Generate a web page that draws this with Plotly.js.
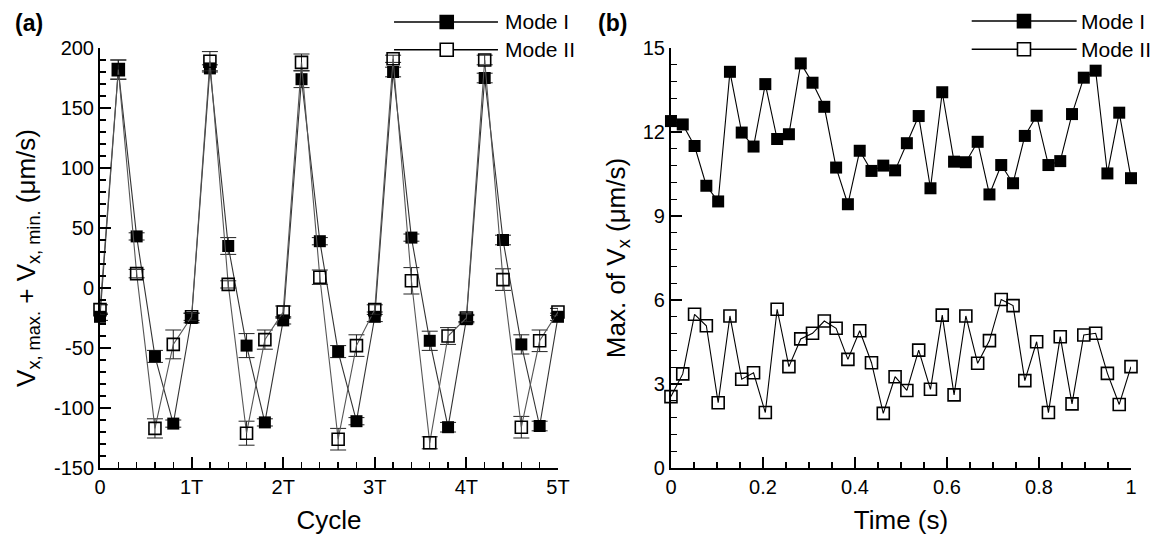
<!DOCTYPE html>
<html>
<head>
<meta charset="utf-8">
<script src="https://cdn.plot.ly/plotly-3.0.1.min.js"></script>
<style>html,body{margin:0;padding:0;background:#fff;}#chart{width:1151px;height:536px;}</style>
</head>
<body>
<div id="chart"></div>
<script>
// Panel (a): cycle positions (units of T)
var cycleX = [0, 0.2, 0.4, 0.6, 0.8, 1.0, 1.2, 1.4, 1.6, 1.8, 2.0, 2.2, 2.4, 2.6, 2.8, 3.0, 3.2, 3.4, 3.6, 3.8, 4.0, 4.2, 4.4, 4.6, 4.8, 5.0];
var modeIa  = [-24, 182, 43, -57, -113, -25, 183, 35, -48, -112, -27, 174, 39, -53, -111, -24, 180, 42, -44, -116, -26, 175, 40, -47, -115, -24];
var modeIaErr = [3, 8, 3, 5, 3, 4, 3, 7, 10, 3, 3, 7, 3, 5, 3, 4, 4, 3, 8, 4, 3, 4, 4, 8, 4, 3];
var modeIIa = [-18, 182, 12, -117, -47, -24, 189, 3, -121, -43, -20, 188, 9, -126, -48, -18, 191, 6, -129, -40, -25, 190, 7, -116, -44, -20];
var modeIIaErr = [4, 8, 3.5, 8, 12, 3, 8, 3, 10, 8, 5, 7, 6, 9, 9, 4, 3, 11, 5, 7, 3, 4, 9, 9, 9, 3];
var cycleTickVals = [0, 1, 2, 3, 4, 5];
var cycleTickText = ['0', '1T', '2T', '3T', '4T', '5T'];
var velTickVals = [-150, -100, -50, 0, 50, 100, 150, 200];
var velTickText = ['-150', '-100', '-50', '0', '50', '100', '150', '200'];

// Panel (b): time (s)
var timeX = [0, 0.0256, 0.0513, 0.0769, 0.1026, 0.1282, 0.1538, 0.1795, 0.2051, 0.2308, 0.2564, 0.2821, 0.3077, 0.3333, 0.3590, 0.3846, 0.4103, 0.4359, 0.4615, 0.4872, 0.5128, 0.5385, 0.5641, 0.5897, 0.6154, 0.6410, 0.6667, 0.6923, 0.7179, 0.7436, 0.7692, 0.7949, 0.8205, 0.8462, 0.8718, 0.8974, 0.9231, 0.9487, 0.9744, 1.0];
var modeIb = [12.39, 12.27, 11.5, 10.08, 9.52, 14.15, 11.98, 11.48, 13.71, 11.75, 11.92, 14.45, 13.76, 12.9, 10.73, 9.42, 11.33, 10.61, 10.8, 10.63, 11.6, 12.57, 9.99, 13.42, 10.94, 10.92, 11.65, 9.77, 10.82, 10.17, 11.86, 12.58, 10.82, 10.96, 12.64, 13.94, 14.19, 10.52, 12.69, 10.35];
var modeIIb = [2.55, 3.36, 5.49, 5.08, 2.33, 5.43, 3.17, 3.4, 1.98, 5.67, 3.62, 4.61, 4.81, 5.25, 4.99, 3.88, 4.9, 3.76, 1.95, 3.26, 2.77, 4.21, 2.81, 5.46, 2.61, 5.43, 3.74, 4.55, 6.02, 5.8, 3.12, 4.51, 1.98, 4.69, 2.29, 4.75, 4.81, 3.38, 2.27, 3.62];

var seriesNames = ['Mode I', 'Mode II'];

var FONT = 'Arial, "Liberation Sans", Helvetica, sans-serif';

function trace(x, y, err, xa, ya, open, lineColor) {
  var t = {
    x: x, y: y, xaxis: xa, yaxis: ya, type: 'scatter', mode: 'lines+markers',
    cliponaxis: false, showlegend: false, hoverinfo: 'x+y',
    line: {color: lineColor, width: 1.1},
    marker: open ? {symbol: 'square-open', size: 12, color: '#000', line: {width: 1.6, color: '#000'}}
                 : {symbol: 'square', size: 12, color: '#000', line: {width: 0}}
  };
  if (err) {
    t.error_y = {type: 'data', array: err, visible: true, color: '#222', thickness: 1, width: 8};
  }
  return t;
}

var data = [
  trace(cycleX, modeIa, modeIaErr, 'x', 'y', false, '#333'),
  trace(cycleX, modeIIa, modeIIaErr, 'x', 'y', true, '#555'),
  trace(timeX, modeIb, null, 'x2', 'y2', false, '#000'),
  trace(timeX, modeIIb, null, 'x2', 'y2', true, '#000')
];

var tickFont = {family: FONT, size: 20, color: '#000'};
var titleFont = {family: FONT, size: 26, color: '#000'};

function axisBase() {
  return {
    showline: true, linewidth: 2, linecolor: '#000', mirror: false,
    showgrid: false, zeroline: false,
    ticks: 'inside', ticklen: 11, tickwidth: 2, tickcolor: '#000',
    tickfont: tickFont, fixedrange: true
  };
}

var xa = Object.assign(axisBase(), {
  domain: [0, 0.4442], range: [0, 5], anchor: 'y',
  tickmode: 'array', tickvals: cycleTickVals, ticktext: cycleTickText,
  minor: {dtick: 0.2, tick0: 0, ticks: 'inside', ticklen: 6, tickwidth: 1.3, tickcolor: '#000'},
  title: {text: 'Cycle', font: titleFont, standoff: 14}
});
var ya = Object.assign(axisBase(), {
  domain: [0, 1], range: [-150, 200], anchor: 'x',
  tickmode: 'array', tickvals: velTickVals, ticktext: velTickText,
  minor: {dtick: 10, tick0: 0, ticks: 'inside', ticklen: 6, tickwidth: 1.3, tickcolor: '#000'},
  title: {text: 'V<sub>x, max.</sub> + V<sub>x, min.</sub> (μm/s)', font: titleFont, standoff: 11}
});
var xb = Object.assign(axisBase(), {
  domain: [0.5538, 1], range: [0, 1], anchor: 'y2',
  tickmode: 'linear', tick0: 0, dtick: 0.2,
  minor: {dtick: 0.05, tick0: 0, ticks: 'inside', ticklen: 6, tickwidth: 1.3, tickcolor: '#000'},
  title: {text: 'Time (s)', font: titleFont, standoff: 14}
});
var yb = Object.assign(axisBase(), {
  domain: [0, 1], range: [0, 15], anchor: 'x2',
  tickmode: 'linear', tick0: 0, dtick: 3,
  minor: {dtick: 0.6, tick0: 0, ticks: 'inside', ticklen: 6, tickwidth: 1.3, tickcolor: '#000'},
  title: {text: 'Max. of V<sub>x</sub> (μm/s)', font: titleFont, standoff: 10}
});

// manual Tecplot-style legends (paper coords)
var legends = [
  {x0: 0.2852, x1: 0.386, xm: 0.3363, xt: 0.3909, ys: [1.0620, 0.9960]},
  {x0: 0.8455, x1: 0.9473, xm: 0.8962, xt: 0.9496, ys: [1.0640, 0.9970]}
];
var shapes = [];
var annotations = [];
legends.forEach(function (L) {
  L.ys.forEach(function (yy, i) {
    shapes.push({type: 'line', xref: 'paper', yref: 'paper', x0: L.x0, x1: L.x1, y0: yy, y1: yy,
      line: {color: '#000', width: 1.5}});
    shapes.push({type: 'rect', xref: 'paper', yref: 'paper', xsizemode: 'pixel', ysizemode: 'pixel',
      xanchor: L.xm, yanchor: yy, x0: -6.5, x1: 6.5, y0: -6.5, y1: 6.5,
      fillcolor: i === 0 ? '#000' : '#fff', line: {color: '#000', width: 1.6}});
    annotations.push({xref: 'paper', yref: 'paper', x: L.xt, y: yy, xanchor: 'left', yanchor: 'middle',
      text: seriesNames[i], showarrow: false, font: {family: FONT, size: 21, color: '#000'}});
  });
});
annotations.push({xref: 'paper', yref: 'paper', x: -0.084, y: 1.06, xanchor: 'left', yanchor: 'middle',
  text: '<b>(a)</b>', showarrow: false, font: {family: FONT, size: 23, color: '#000'}});
annotations.push({xref: 'paper', yref: 'paper', x: 0.481, y: 1.06, xanchor: 'left', yanchor: 'middle',
  text: '<b>(b)</b>', showarrow: false, font: {family: FONT, size: 23, color: '#000'}});

var layout = {
  width: 1151, height: 536,
  margin: {l: 100, r: 20, t: 48, b: 68, pad: 0},
  paper_bgcolor: '#fff', plot_bgcolor: '#fff',
  showlegend: false,
  xaxis: xa, yaxis: ya, xaxis2: xb, yaxis2: yb,
  shapes: shapes, annotations: annotations,
  font: {family: FONT, color: '#000'}
};

Plotly.newPlot('chart', data, layout, {staticPlot: true, displayModeBar: false});
</script>
</body>
</html>
